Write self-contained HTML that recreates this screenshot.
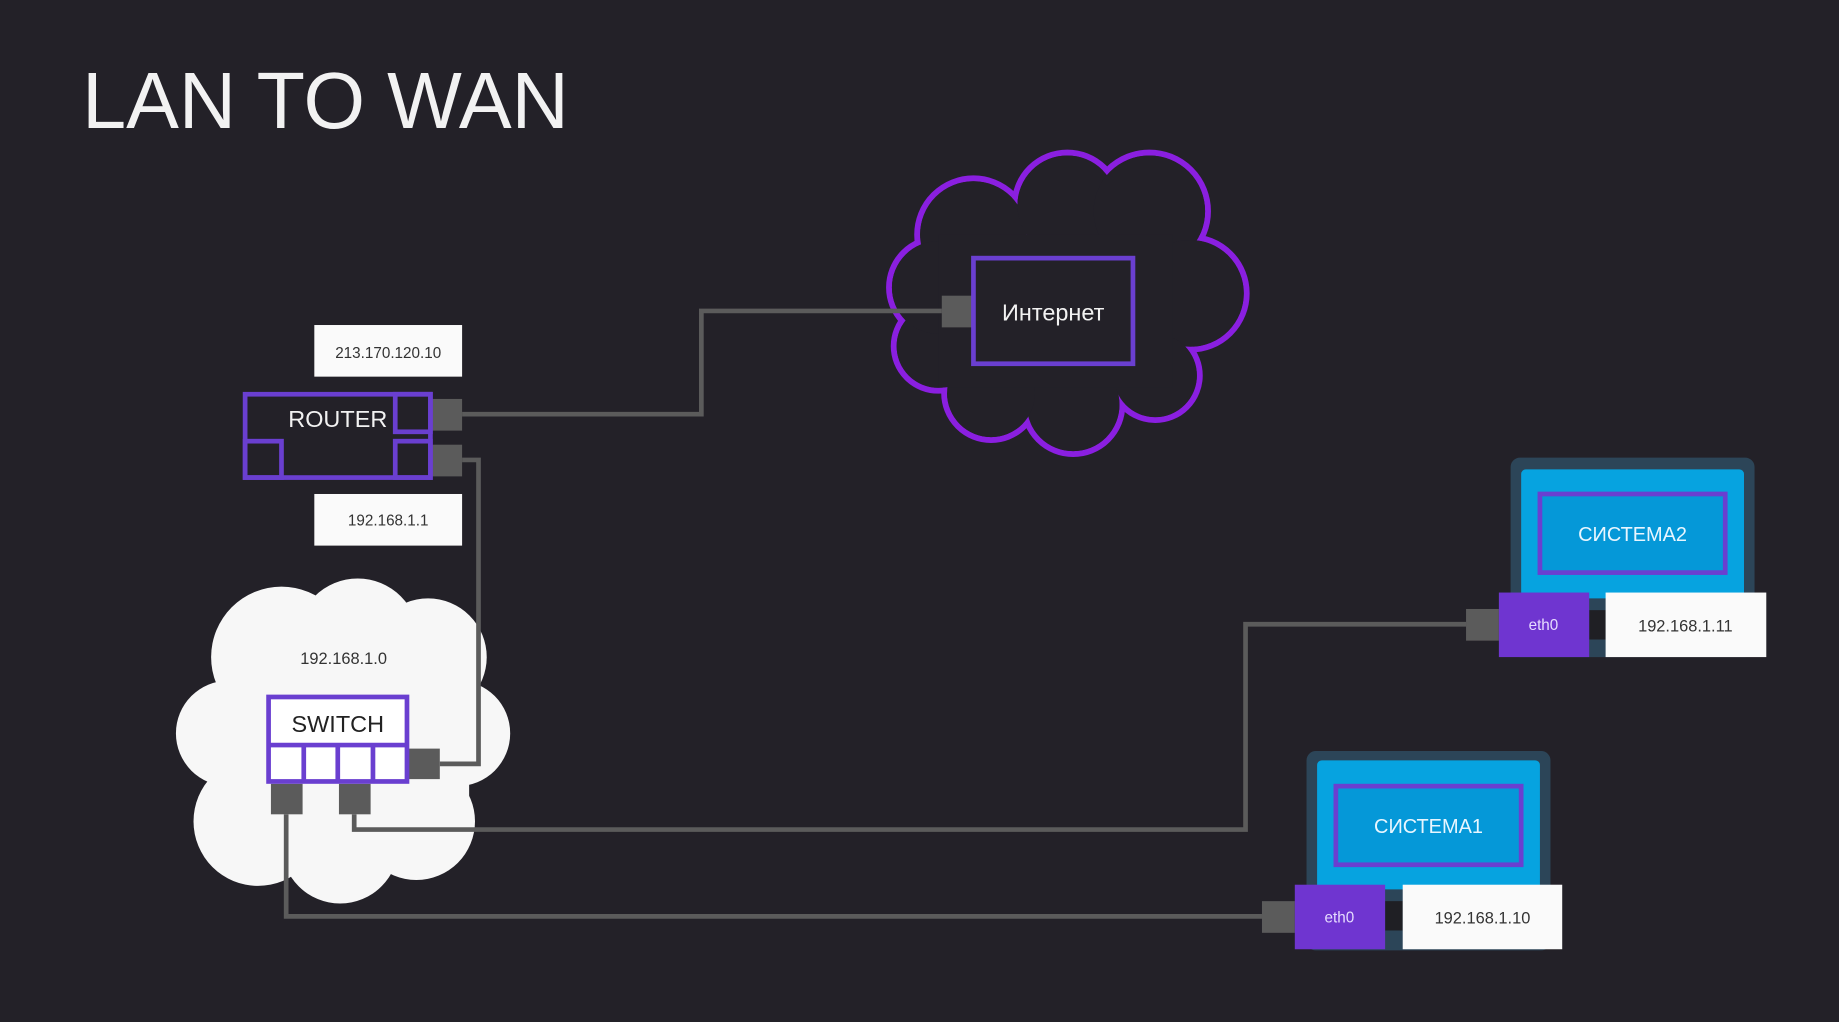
<!DOCTYPE html>
<html><head><meta charset="utf-8"><style>
html,body{margin:0;padding:0;background:#232128;}
svg{display:block}
text{font-family:"Liberation Sans","DejaVu Sans",sans-serif}
</style></head><body>
<svg width="1839" height="1022" viewBox="0 0 1568 871" preserveAspectRatio="none" xmlns="http://www.w3.org/2000/svg">
<rect width="1568" height="871" fill="#232128"/>
<text x="70" y="109" font-size="68" fill="#f2f2f2" textLength="415" lengthAdjust="spacingAndGlyphs">LAN TO WAN</text>

<!-- internet cloud -->
<g stroke="#8a1fe0" stroke-width="5" fill="#232128">
<circle cx="830" cy="200" r="48"/><circle cx="910" cy="175" r="45"/><circle cx="980" cy="180" r="50"/>
<circle cx="1015" cy="250" r="48"/><circle cx="985" cy="320" r="38"/><circle cx="915" cy="345" r="42"/>
<circle cx="845" cy="335" r="40"/><circle cx="800" cy="295" r="38"/><circle cx="800" cy="245" r="42"/>
</g>
<g fill="#232128">
<circle cx="830" cy="200" r="45.5"/><circle cx="910" cy="175" r="42.5"/><circle cx="980" cy="180" r="47.5"/>
<circle cx="1015" cy="250" r="45.5"/><circle cx="985" cy="320" r="35.5"/><circle cx="915" cy="345" r="39.5"/>
<circle cx="845" cy="335" r="37.5"/><circle cx="800" cy="295" r="35.5"/><circle cx="800" cy="245" r="39.5"/>
<rect x="800" y="200" width="200" height="130"/>
</g>

<!-- switch cloud -->
<g fill="#f7f7f7">
<circle cx="240" cy="560" r="60"/><circle cx="305" cy="545" r="52"/><circle cx="365" cy="560" r="50"/>
<circle cx="390" cy="625" r="45"/><circle cx="355" cy="700" r="50"/><circle cx="290" cy="720" r="50"/>
<circle cx="220" cy="700" r="55"/><circle cx="195" cy="625" r="45"/>
<rect x="200" y="560" width="200" height="160"/>
</g>
<text x="293" y="566" font-size="14" fill="#333" text-anchor="middle">192.168.1.0</text>

<!-- connectors -->
<g stroke="#5b5b5b" stroke-width="4" fill="none">
<polyline points="394,353 598,353 598,265 803,265"/>
<polyline points="394,392 408,392 408,651 375,651"/>
<polyline points="244,694 244,781 1076,781"/>
<polyline points="302,694 302,707 1062,707 1062,532 1250,532"/>
</g>
<g fill="#5b5b5b">
<rect x="367" y="340" width="27" height="27"/><rect x="367" y="379" width="27" height="27"/>
<rect x="803" y="252" width="27" height="27"/>
<rect x="347" y="638" width="28" height="26"/>
<rect x="231" y="668" width="27" height="26"/><rect x="289" y="668" width="27" height="26"/>
<rect x="1250" y="519" width="28" height="27"/><rect x="1076" y="768" width="28" height="27"/>
</g>

<!-- internet box -->
<rect x="830" y="220" width="136" height="90" fill="#232128" stroke="#6a3fd0" stroke-width="4"/>
<text x="898" y="273" font-size="20" fill="#f2f2f2" text-anchor="middle">Интернет</text>

<!-- router -->
<g fill="none" stroke="#6a3fd0" stroke-width="4">
<rect x="209" y="336" width="158" height="71"/>
<rect x="337" y="336" width="30" height="32"/>
<rect x="209" y="376" width="31" height="31"/>
<rect x="337" y="376" width="30" height="31"/>
</g>
<text x="288" y="364" font-size="20" fill="#f2f2f2" text-anchor="middle">ROUTER</text>
<rect x="268" y="277" width="126" height="44" fill="#fafafa"/>
<text x="331" y="305" font-size="13" fill="#333" text-anchor="middle">213.170.120.10</text>
<rect x="268" y="421" width="126" height="44" fill="#fafafa"/>
<text x="331" y="448" font-size="13" fill="#333" text-anchor="middle">192.168.1.1</text>

<!-- switch -->
<rect x="229" y="594" width="118" height="72" fill="#fff" stroke="#6a3fd0" stroke-width="4"/>
<g stroke="#6a3fd0" stroke-width="4"><line x1="229" y1="635" x2="347" y2="635"/>
<line x1="259" y1="635" x2="259" y2="666"/><line x1="288" y1="635" x2="288" y2="666"/><line x1="318" y1="635" x2="318" y2="666"/></g>
<text x="288" y="624" font-size="20" fill="#222" text-anchor="middle">SWITCH</text>

<!-- laptop 2 -->
<rect x="1288" y="390" width="208" height="170" rx="8" fill="#2c4558"/>
<rect x="1297" y="400" width="190" height="110" rx="4" fill="#06a3e0"/>
<rect x="1313" y="421" width="158" height="67" fill="#0598d8" stroke="#6a3fd0" stroke-width="4"/>
<text x="1392" y="461" font-size="17" fill="#e8f6ff" text-anchor="middle">СИСТЕМА2</text>
<rect x="1355" y="520" width="14" height="25" fill="#1f1f24"/>
<rect x="1278" y="505" width="77" height="55" fill="#6f35d0"/>
<text x="1316" y="537" font-size="13" fill="#e6dcff" text-anchor="middle">eth0</text>
<rect x="1369" y="505" width="137" height="55" fill="#fafafa"/>
<text x="1437" y="538" font-size="14" fill="#333" text-anchor="middle">192.168.1.11</text>

<!-- laptop 1 -->
<rect x="1114" y="640" width="208" height="170" rx="8" fill="#2c4558"/>
<rect x="1123" y="648" width="190" height="110" rx="4" fill="#06a3e0"/>
<rect x="1139" y="670" width="158" height="67" fill="#0598d8" stroke="#6a3fd0" stroke-width="4"/>
<text x="1218" y="710" font-size="17" fill="#e8f6ff" text-anchor="middle">СИСТЕМА1</text>
<rect x="1181" y="768" width="15" height="25" fill="#1f1f24"/>
<rect x="1104" y="754" width="77" height="55" fill="#6f35d0"/>
<text x="1142" y="786" font-size="13" fill="#e6dcff" text-anchor="middle">eth0</text>
<rect x="1196" y="754" width="136" height="55" fill="#fafafa"/>
<text x="1264" y="787" font-size="14" fill="#333" text-anchor="middle">192.168.1.10</text>
</svg>
</body></html>
